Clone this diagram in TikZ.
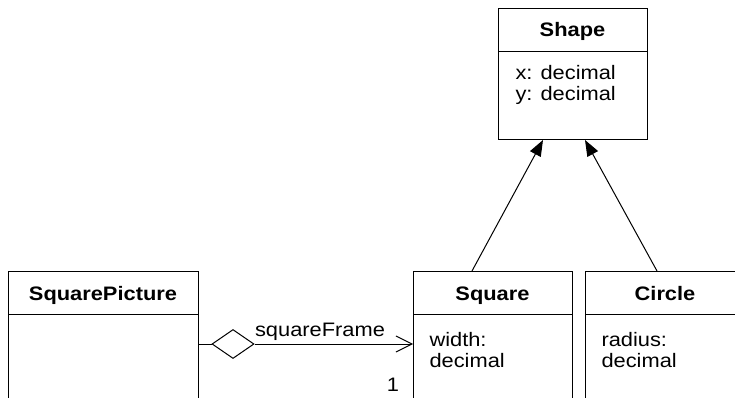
\documentclass[tikz,border=0pt]{standalone}
\usepackage{fontspec}
\setmainfont{Liberation Sans}[FakeStretch=1.12]
\usetikzlibrary{arrows.meta,shapes.geometric}
\begin{document}
\begin{tikzpicture}[x=1pt,y=-1pt,line width=1pt,
  classbox/.style={draw,line width=1pt,inner sep=0pt,anchor=north west},
  classtitle/.style={font=\fontsize{19.5}{21}\selectfont\bfseries,anchor=base,inner sep=0pt},
  attr/.style={font=\fontsize{19.5}{21}\selectfont,anchor=base west,inner sep=0pt},
  assoclabel/.style={font=\fontsize{19.5}{21}\selectfont,anchor=base,inner sep=0pt},
  genarrow/.style={-{Triangle[length=16pt,width=12pt]}},
  navarrow/.style={-{Straight Barb[length=16pt,width=16pt]}},
  aggmark/.style={diamond,draw,line width=1pt,inner sep=0pt,fill=white,
    shape aspect=1.45,minimum width=42pt,minimum height=29pt}]
\useasboundingbox (0,0) rectangle (735,398);
\clip (0,0) rectangle (735,398);

% Shape
\node[classbox,minimum width=149pt,minimum height=131pt] (shapebox) at (498,8) {};
\draw (shapebox.west |- 0,52) -- (shapebox.east |- 0,52);
\node[classtitle] (shapetitle) at (572.5,37) {Shape};
\node[attr] (shapex) at (515,80) {x: decimal};
\node[attr] (shapey) at (515,101) {y: decimal};

% SquarePicture
\node[classbox,minimum width=190pt,minimum height=150pt] (picbox) at (8,271) {};
\draw (picbox.west |- 0,314) -- (picbox.east |- 0,314);
\node[classtitle] (pictitle) at (103,300) {SquarePicture};

% Square
\node[classbox,minimum width=159pt,minimum height=150pt] (squarebox) at (413,271) {};
\draw (squarebox.west |- 0,314) -- (squarebox.east |- 0,314);
\node[classtitle] (squaretitle) at (492.5,300) {Square};
\node[attr] (squarew1) at (429,346) {width:};
\node[attr] (squarew2) at (429,367) {decimal};

% Circle
\node[classbox,minimum width=160pt,minimum height=150pt] (circlebox) at (585,271) {};
\draw (circlebox.west |- 0,314) -- (circlebox.east |- 0,314);
\node[classtitle] (circletitle) at (665,300) {Circle};
\node[attr] (circler1) at (601,346) {radius:};
\node[attr] (circler2) at (601,367) {decimal};

% Generalisations
\draw[genarrow] ([xshift=59pt]squarebox.north west) -- ([xshift=45pt]shapebox.south west);
\draw[genarrow] ([xshift=72pt]circlebox.north west) -- ([xshift=87pt]shapebox.south west);

% Aggregation
\node[aggmark] (aggdiamond) at (233,344) {};
\draw (picbox.east |- aggdiamond) -- (aggdiamond.west);
\draw[navarrow] (aggdiamond.east) -- (squarebox.west |- aggdiamond);
\node[assoclabel] (rolename) at (320,336) {squareFrame};
\node[assoclabel] (mult) at (393,391) {1};
\end{tikzpicture}
\end{document}
